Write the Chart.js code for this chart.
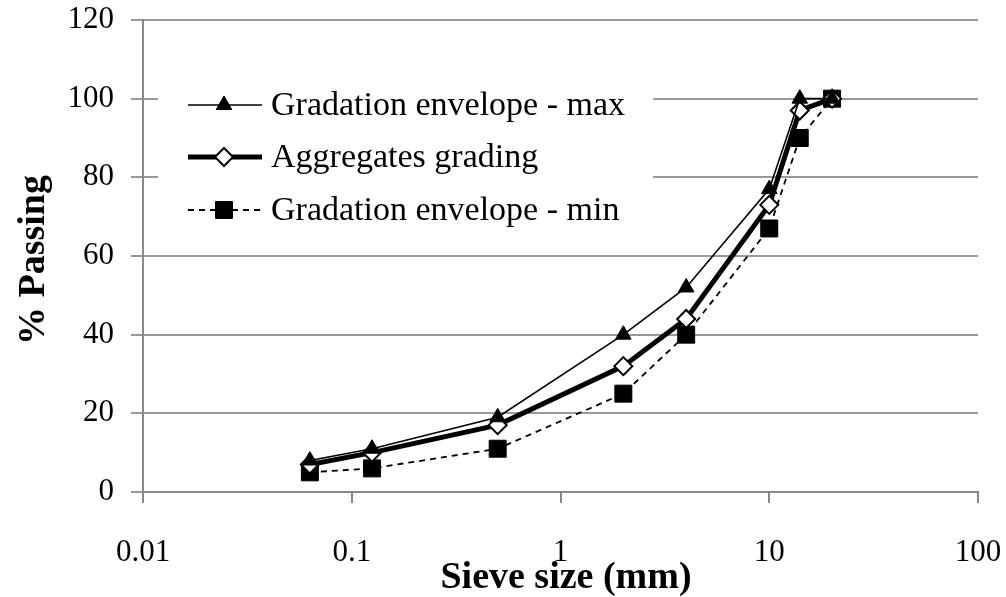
<!DOCTYPE html>
<html>
<head>
<meta charset="utf-8">
<script src="https://cdn.jsdelivr.net/npm/chart.js@4/dist/chart.umd.min.js"></script>
<style>
  html, body { margin: 0; padding: 0; background: #fff; }
  #wrap { width: 1006px; height: 597px; position: relative; }
</style>
</head>
<body>
<div id="wrap"><canvas id="c" width="1006" height="597"></canvas></div>
<script>
const sieveSizes = [0.063, 0.125, 0.5, 2, 4, 10, 14, 20];
const envelopeMax = [8, 11, 19, 40, 52, 77, 100, 100];
const aggregatesGrading = [7, 10, 17, 32, 44, 73, 97, 100];
const envelopeMin = [5, 6, 11, 25, 40, 67, 90, 100];
const xTickValues = [0.01, 0.1, 1, 10, 100];
const xTickLabels = ['0.01', '0.1', '1', '10', '100'];
const seriesLabels = ['Gradation envelope - max', 'Aggregates grading', 'Gradation envelope - min'];
const xTitle = 'Sieve size (mm)';
const yTitle = '% Passing';

const FONT = '"Liberation Serif", "Times New Roman", serif';

function pts(vals) { return sieveSizes.map((x, i) => ({ x: x, y: vals[i] })); }

const datasets = [
  { label: seriesLabels[0], data: pts(envelopeMax), borderColor: '#000', backgroundColor: '#000',
    borderWidth: 1.6, pointStyle: 'triangle', pointRadius: 9, pointBorderWidth: 1,
    pointBackgroundColor: '#000', pointBorderColor: '#000' },
  { label: seriesLabels[1], data: pts(aggregatesGrading), borderColor: '#000', backgroundColor: '#fff',
    borderWidth: 5, pointStyle: 'rectRot', pointRadius: 9, pointBorderWidth: 2,
    pointBackgroundColor: '#fff', pointBorderColor: '#000' },
  { label: seriesLabels[2], data: pts(envelopeMin), borderColor: '#000', backgroundColor: '#000',
    borderWidth: 1.8, borderDash: [6, 5], pointStyle: 'rect', pointRadius: 12, pointBorderWidth: 1,
    pointBackgroundColor: '#000', pointBorderColor: '#000' }
];

function zeroPad(scale) {
  scale.paddingTop = 0; scale.paddingBottom = 0; scale.paddingLeft = 0; scale.paddingRight = 0;
}

const customDraw = {
  id: 'customDraw',
  afterDraw(chart) {
    const ctx = chart.ctx;
    ctx.save();
    ctx.fillStyle = '#fff';
    ctx.fillRect(158, 62, 495, 185);
    const rows = [105, 157, 210];
    chart.data.datasets.forEach((ds, i) => {
      const y = rows[i];
      ctx.save();
      ctx.strokeStyle = '#000';
      ctx.lineWidth = ds.borderWidth;
      ctx.setLineDash(ds.borderDash || []);
      ctx.beginPath();
      ctx.moveTo(188, y);
      ctx.lineTo(262, y);
      ctx.stroke();
      ctx.setLineDash([]);
      ctx.fillStyle = ds.pointBackgroundColor;
      ctx.strokeStyle = ds.pointBorderColor;
      ctx.lineWidth = ds.pointBorderWidth;
      Chart.helpers.drawPoint(ctx, {
        pointStyle: ds.pointStyle, radius: ds.pointRadius, rotation: 0, borderWidth: ds.pointBorderWidth
      }, 224, y);
      ctx.restore();
      ctx.fillStyle = '#000';
      ctx.font = '34px ' + FONT;
      ctx.textAlign = 'left';
      ctx.textBaseline = 'middle';
      ctx.fillText(ds.label, 271, y + 1);
    });
    ctx.fillStyle = '#000';
    ctx.font = 'bold 38px ' + FONT;
    ctx.textAlign = 'center';
    ctx.textBaseline = 'middle';
    ctx.fillText(xTitle, 566, 578);
    ctx.translate(34, 260);
    ctx.rotate(-Math.PI / 2);
    ctx.fillText(yTitle, 0, 0);
    ctx.restore();
  }
};

new Chart(document.getElementById('c'), {
  type: 'line',
  data: { datasets: datasets },
  plugins: [customDraw],
  options: {
    responsive: false,
    animation: false,
    layout: { padding: { top: 20, right: 28, left: 0, bottom: 0 } },
    plugins: { legend: { display: false }, tooltip: { enabled: false } },
    elements: { line: { tension: 0 } },
    scales: {
      x: {
        type: 'logarithmic',
        min: 0.01, max: 100,
        afterBuildTicks(scale) { scale.ticks = xTickValues.map(v => ({ value: v })); },
        afterFit(scale) { scale.height = 105; zeroPad(scale); },
        ticks: {
          autoSkip: false, maxRotation: 0, padding: 31,
          color: '#000', font: { family: FONT, size: 31 },
          callback(v) { const i = xTickValues.indexOf(v); return i >= 0 ? xTickLabels[i] : ''; }
        },
        grid: { drawOnChartArea: false, drawTicks: true, tickLength: 11, color: '#888', lineWidth: 2 },
        border: { color: '#888', width: 2 }
      },
      y: {
        min: 0, max: 120,
        afterFit(scale) { scale.width = 143; zeroPad(scale); },
        ticks: { stepSize: 20, padding: 17, color: '#000', font: { family: FONT, size: 31 } },
        grid: { color: '#999', lineWidth: 2, tickLength: 12 },
        border: { color: '#888', width: 2 }
      }
    }
  }
});
</script>
</body>
</html>
